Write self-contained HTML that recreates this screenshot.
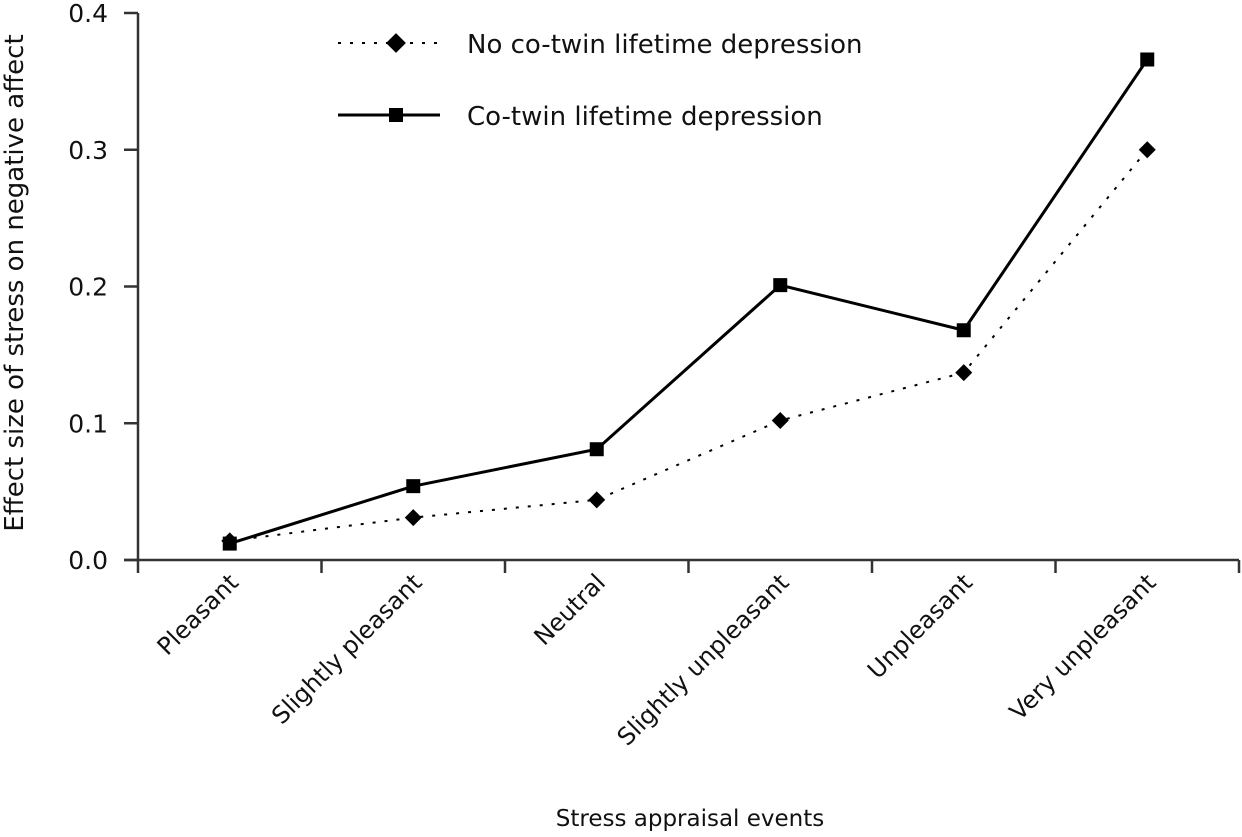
<!DOCTYPE html>
<html><head><meta charset="utf-8"><style>
html,body{margin:0;padding:0;background:#fff;}
svg{display:block;font-family:"DejaVu Sans","Liberation Sans",sans-serif;}
</style></head><body>
<svg id="chart" width="1242" height="837" viewBox="0 0 1242 837">
<g id="axes"></g>
<g id="series"></g>
<g id="legend">
  <line x1="338" y1="43" x2="440" y2="43" stroke="#000" stroke-width="2" stroke-dasharray="3,9"/>
  <rect x="389" y="36" width="14" height="14" transform="rotate(45 396 43)" fill="#000"/>
  <text x="467" y="53" font-size="26" fill="#111">No co-twin lifetime depression</text>
  <line x1="338" y1="115" x2="440" y2="115" stroke="#000" stroke-width="3"/>
  <rect x="389" y="108" width="14" height="14" fill="#000"/>
  <text x="467" y="125" font-size="26" fill="#111">Co-twin lifetime depression</text>
</g>
<text x="690" y="826" font-size="23" text-anchor="middle" fill="#111">Stress appraisal events</text>
<text transform="translate(23 283) rotate(-90)" font-size="26" text-anchor="middle" fill="#111">Effect size of stress on negative affect</text>
</svg>
<script>
const categories = ["Pleasant","Slightly pleasant","Neutral","Slightly unpleasant","Unpleasant","Very unpleasant"];
const coTwinValues = [0.012,0.054,0.081,0.201,0.168,0.366];
const noCoTwinValues = [0.014,0.031,0.044,0.102,0.137,0.300];
const yTicks = [0.0,0.1,0.2,0.3,0.4];
const yTickLabels = ["0.0","0.1","0.2","0.3","0.4"];

const NS="http://www.w3.org/2000/svg";
const x0=138,x1=1239,yBase=560,yTop=13,yMax=0.4;
const band=(x1-x0)/categories.length;
function xScale(i){return x0+band*(i+0.5);}
function yScale(v){return yBase-(v/yMax)*(yBase-yTop);}
function mk(tag,attrs,parent){const e=document.createElementNS(NS,tag);for(const k in attrs)e.setAttribute(k,attrs[k]);parent.appendChild(e);return e;}
const axes=document.getElementById('axes'),series=document.getElementById('series');

let a=mk('line',{x1:x0,y1:yTop,x2:x0,y2:yBase,stroke:'#333','stroke-width':2.5},axes);


a=mk('line',{x1:124,y1:yBase,x2:x1,y2:yBase,stroke:'#333','stroke-width':2.5},axes);


yTicks.forEach((v,i)=>{
  const y=yScale(v);
  const t=mk('line',{x1:124,y1:y,x2:x0,y2:y,stroke:'#333','stroke-width':2.5},axes);
  
  
  const l=mk('text',{x:108,y:y+9,'font-size':25,'text-anchor':'end',fill:'#111'},axes);
  l.textContent=yTickLabels[i];
  
  
});
for(let i=0;i<=categories.length;i++){
  const x=x0+band*i;
  const t=mk('line',{x1:x,y1:yBase,x2:x,y2:yBase+13,stroke:'#333','stroke-width':2.5},axes);
  
  
}
categories.forEach((c,i)=>{
  const x=xScale(i)+10,y=yBase+24;
  const l=mk('text',{x:x,y:y,'font-size':24,'text-anchor':'end',fill:'#111',transform:`rotate(-45 ${x} ${y})`},axes);
  l.textContent=c;
  
  
});
function pts(vals){return vals.map((v,i)=>xScale(i)+','+yScale(v)).join(' ');}
let p=mk('polyline',{points:pts(noCoTwinValues),fill:'none',stroke:'#000','stroke-width':2,'stroke-dasharray':'3,9'},series);


p=mk('polyline',{points:pts(coTwinValues),fill:'none',stroke:'#000','stroke-width':3},series);


noCoTwinValues.forEach((v,i)=>{
  const x=xScale(i),y=yScale(v);
  const m=mk('rect',{x:x-6,y:y-6,width:12,height:12,fill:'#000',transform:`rotate(45 ${x} ${y})`},series);
  
  
});
coTwinValues.forEach((v,i)=>{
  const x=xScale(i),y=yScale(v);
  const m=mk('rect',{x:x-7,y:y-7,width:14,height:14,fill:'#000'},series);
  
  
});
</script>
</body></html>
